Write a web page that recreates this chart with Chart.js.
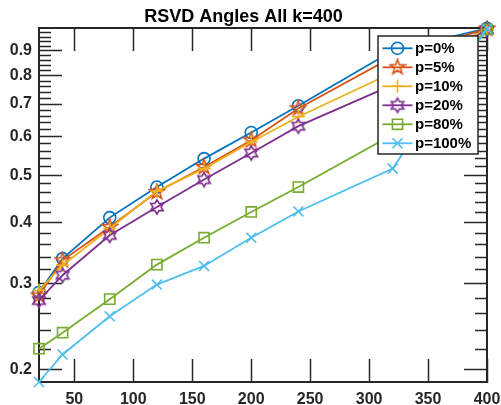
<!DOCTYPE html>
<html>
<head>
<meta charset="utf-8">
<script src="https://cdn.jsdelivr.net/npm/chart.js@4.4.0/dist/chart.umd.min.js"></script>
<style>
    html, body { margin: 0; padding: 0; background: #fff; }
    #wrap { width: 501px; height: 405px; }
</style>
</head>
<body>
<div id="wrap"><canvas id="angles-chart" width="501" height="405"></canvas></div>
<script>
// sample sizes on the x axis
const sizes = [20, 40, 80, 120, 160, 200, 240, 320, 400];
const seriesNames = ['p=0%', 'p=5%', 'p=10%', 'p=20%', 'p=80%', 'p=100%'];

// angle values (log scale)
const p0 = [0.288, 0.3375, 0.4095, 0.473, 0.541, 0.612, 0.694, 0.900, 1.000];
const p5 = [0.2836, 0.3348, 0.3917, 0.462, 0.520, 0.590, 0.6855, 0.874, 0.998];
const p10 = [0.2905, 0.327, 0.389, 0.464, 0.516, 0.585, 0.659, 0.812, 0.996];
const p20 = [0.277, 0.312, 0.3766, 0.4306, 0.490, 0.5557, 0.6305, 0.766, 0.994];
const p80 = [0.2206, 0.2379, 0.2787, 0.328, 0.3725, 0.4206, 0.473, 0.606, 0.996];
const p100 = [0.1885, 0.2146, 0.257, 0.2985, 0.326, 0.3725, 0.4215, 0.516, 0.998];

const xTicks = [50, 100, 150, 200, 250, 300, 350, 400];
const yTicks = [0.2, 0.3, 0.4, 0.5, 0.6, 0.7, 0.8, 0.9];
const yTickLabels = ['0.2', '0.3', '0.4', '0.5', '0.6', '0.7', '0.8', '0.9'];

const colors = ['#0072BD', '#D95319', '#EDB120', '#7E2F8E', '#77AC30', '#4DBEEE'];
const axisColor = '#262626';
const fontFamily = '"Liberation Sans", Arial, Helvetica, sans-serif';

// minor ticks every 0.02 between the labelled ones
var yMinor = [];
for (var k = 0; k < yTicks.length; k++) {
    for (var m = 1; m <= 4; m++) {
        var mv = Math.round((yTicks[k] + m * 0.02) * 100) / 100;
        if (mv < 1) yMinor.push(mv);
    }
}

// outlined star markers (pentagram / hexagram) as small canvases
function starMarker(color, points, outer, inner) {
    const cv = document.createElement('canvas');
    cv.width = 18;
    cv.height = 18;
    const g = cv.getContext('2d');
    g.strokeStyle = color;
    g.lineWidth = 1.6;
    g.beginPath();
    for (var i = 0; i < points * 2; i++) {
        const r = i % 2 === 0 ? outer : inner;
        const ang = -Math.PI / 2 + i * Math.PI / points;
        const px = 9 + r * Math.cos(ang);
        const py = 9 + r * Math.sin(ang);
        if (i === 0) g.moveTo(px, py); else g.lineTo(px, py);
    }
    g.closePath();
    g.stroke();
    return cv;
}

const markerStyles = [
    {style: 'circle', radius: 6},
    {style: starMarker(colors[1], 5, 7.8, 3.1), radius: 7},
    {style: 'cross', radius: 6.5},
    {style: starMarker(colors[3], 6, 7.2, 4.1), radius: 7},
    {style: 'rect', radius: 7.2},
    {style: 'crossRot', radius: 7}
];

const allSeries = [p0, p5, p10, p20, p80, p100];

const datasets = allSeries.map(function (vals, i) {
    return {
        label: seriesNames[i],
        xAxisID: 'x',
        yAxisID: 'y',
        data: sizes.map(function (x, j) { return {x: x, y: vals[j]}; }),
        borderColor: colors[i],
        backgroundColor: 'rgba(0,0,0,0)',
        borderWidth: 1.8,
        pointStyle: markerStyles[i].style,
        pointRadius: markerStyles[i].radius,
        pointBorderWidth: 1.6,
        pointBorderColor: colors[i],
        pointBackgroundColor: 'rgba(0,0,0,0)',
        tension: 0,
        clip: false,
        order: allSeries.length - i
    };
});

// legend marker, same shapes as the points
function legendMarker(c, style, radius, x, y) {
    if (typeof style !== 'string') {
        c.drawImage(style, x - style.width / 2, y - style.height / 2);
        return;
    }
    c.beginPath();
    if (style === 'circle') {
        c.arc(x, y, radius, 0, Math.PI * 2);
    } else if (style === 'cross') {
        c.moveTo(x - radius, y); c.lineTo(x + radius, y);
        c.moveTo(x, y - radius); c.lineTo(x, y + radius);
    } else if (style === 'rect') {
        const hs = radius * Math.SQRT1_2;
        c.rect(x - hs, y - hs, 2 * hs, 2 * hs);
    } else if (style === 'crossRot') {
        const d = radius * Math.SQRT1_2;
        c.moveTo(x - d, y - d); c.lineTo(x + d, y + d);
        c.moveTo(x - d, y + d); c.lineTo(x + d, y - d);
    }
    c.stroke();
}

// legend box inside the axes, line sample with marker in the middle
const boxLegend = {
    id: 'boxLegend',
    afterDraw(chart) {
        const c = chart.ctx;
        const a = chart.chartArea;
        const w = 100, h = 118;
        const lx = a.right - 9 - w;
        const ly = a.top + 8;
        c.save();
        c.fillStyle = '#fff';
        c.fillRect(lx, ly, w, h);
        c.strokeStyle = axisColor;
        c.lineWidth = 1.5;
        c.strokeRect(lx, ly, w, h);
        c.font = 'bold 15px ' + fontFamily;
        c.textBaseline = 'middle';
        c.textAlign = 'left';
        chart.data.datasets.forEach(function (ds, i) {
            const ry = ly + 12.3 + i * 19;
            c.strokeStyle = ds.borderColor;
            c.lineWidth = ds.borderWidth;
            c.beginPath();
            c.moveTo(lx + 4.5, ry);
            c.lineTo(lx + 34.5, ry);
            c.stroke();
            c.lineWidth = ds.pointBorderWidth;
            legendMarker(c, ds.pointStyle, ds.pointRadius, lx + 19.5, ry);
            c.fillStyle = '#000';
            c.fillText(ds.label, lx + 37, ry + 1);
        });
        c.restore();
    }
};

// inward tick marks through the scales themselves (negative tick length)
function inwardGrid(len) {
    return {
        display: true,
        drawOnChartArea: false,
        drawTicks: true,
        tickLength: -len,
        tickColor: axisColor,
        tickWidth: 1.5
    };
}
const edge = {display: true, color: axisColor, width: 2};
const noEdge = {display: false};

function fixedTicks(list) {
    return function (s) {
        s.ticks = list.map(function (v) { return {value: v}; });
    };
}
function zeroWidth(s) {
    s.width = 0;
    s.paddingTop = 0;
    s.paddingBottom = 0;
}
function zeroHeight(s) {
    s.height = 0;
    s.paddingLeft = 0;
    s.paddingRight = 0;
}

const yMin = 0.1885, yMax = 1.002;

const ctx = document.getElementById('angles-chart').getContext('2d');
const anglesChart = new Chart(ctx, {
    type: 'line',
    data: {datasets: datasets},
    options: {
        responsive: false,
        animation: false,
        devicePixelRatio: 1,
        events: [],
        layout: {padding: {left: 0, right: 14, top: 0, bottom: 0}},
        plugins: {
            legend: {display: false},
            tooltip: {enabled: false},
            title: {
                display: true,
                text: 'RSVD Angles All k=400',
                color: '#000',
                font: {family: fontFamily, size: 18, weight: 'bold'},
                padding: {top: 6, bottom: 0.4}
            }
        },
        scales: {
            x: {
                type: 'linear',
                position: 'bottom',
                min: 20,
                max: 400,
                afterBuildTicks: fixedTicks(xTicks),
                afterFit: function (s) {
                    s.height = 23;
                    s.paddingLeft = 0;
                    s.paddingRight = 0;
                },
                grid: inwardGrid(23),
                border: edge,
                ticks: {
                    color: axisColor,
                    padding: 31,
                    maxRotation: 0,
                    autoSkip: false,
                    font: {family: fontFamily, size: 16, weight: 'bold'},
                    callback: function (v) { return String(v); }
                }
            },
            xTop: {
                type: 'linear',
                position: 'top',
                min: 20,
                max: 400,
                afterBuildTicks: fixedTicks(xTicks),
                afterFit: zeroHeight,
                grid: inwardGrid(23),
                border: edge,
                ticks: {display: false}
            },
            y: {
                type: 'logarithmic',
                position: 'left',
                weight: 1,
                min: yMin,
                max: yMax,
                afterBuildTicks: fixedTicks(yTicks),
                afterFit: function (s) {
                    s.width = 39;
                    s.paddingTop = 0;
                    s.paddingBottom = 0;
                },
                grid: inwardGrid(23),
                border: edge,
                ticks: {
                    color: axisColor,
                    padding: 30,
                    autoSkip: false,
                    font: {family: fontFamily, size: 16, weight: 'bold'},
                    callback: function (v) {
                        const idx = yTicks.indexOf(Math.round(v * 10) / 10);
                        return idx >= 0 ? yTickLabels[idx] : '';
                    }
                }
            },
            yMinorLeft: {
                type: 'logarithmic',
                position: 'left',
                weight: 0,
                min: yMin,
                max: yMax,
                afterBuildTicks: fixedTicks(yMinor),
                afterFit: zeroWidth,
                grid: inwardGrid(12),
                border: noEdge,
                ticks: {display: false, autoSkip: false}
            },
            yRight: {
                type: 'logarithmic',
                position: 'right',
                weight: 0,
                min: yMin,
                max: yMax,
                afterBuildTicks: fixedTicks(yTicks),
                afterFit: zeroWidth,
                grid: inwardGrid(23),
                border: edge,
                ticks: {display: false, autoSkip: false}
            },
            yMinorRight: {
                type: 'logarithmic',
                position: 'right',
                weight: 0,
                min: yMin,
                max: yMax,
                afterBuildTicks: fixedTicks(yMinor),
                afterFit: zeroWidth,
                grid: inwardGrid(12),
                border: noEdge,
                ticks: {display: false, autoSkip: false}
            }
        }
    },
    plugins: [boxLegend]
});
</script>
</body>
</html>
